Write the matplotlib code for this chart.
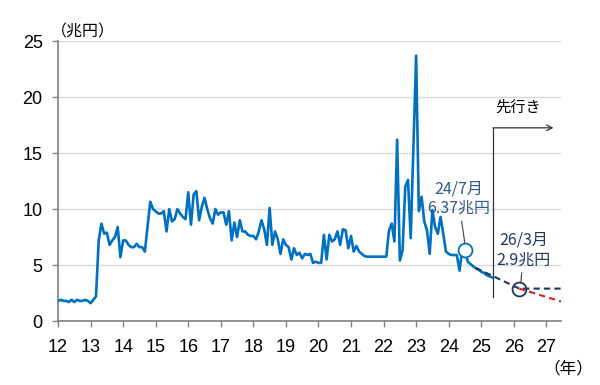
import matplotlib
matplotlib.use("Agg")
import matplotlib.pyplot as plt
from matplotlib import font_manager

# 月次の国債買入れ額（兆円）、2012年1月〜2025年5月
v2012 = [1.8, 1.9, 1.8, 1.8, 1.7, 1.9, 1.7, 1.9, 1.8, 1.8, 1.9, 1.8]
v2013 = [1.6, 1.9, 2.2, 7.2, 8.7, 7.8, 7.9, 6.8, 7.2, 7.5, 8.4, 5.7]
v2014 = [7.2, 7.2, 6.8, 6.6, 6.6, 6.9, 6.6, 6.6, 6.2, 8.4, 10.65, 10.0]
v2015 = [9.8, 9.6, 9.6, 9.8, 8.0, 10.0, 8.9, 9.1, 10.0, 9.6, 9.3, 9.1]
v2016 = [11.5, 8.6, 11.3, 11.6, 9.0, 10.2, 11.0, 10.0, 9.2, 8.7, 10.0, 9.5]
v2017 = [9.7, 9.7, 8.6, 9.8, 7.2, 8.8, 7.5, 9.0, 8.0, 8.0, 7.7, 7.6]
v2018 = [7.6, 7.3, 8.0, 9.0, 8.2, 6.8, 10.1, 6.8, 8.0, 7.3, 6.0, 7.3]
v2019 = [6.8, 6.6, 5.5, 6.5, 5.9, 6.1, 5.6, 6.0, 5.9, 6.0, 5.2, 5.3]
v2020 = [5.2, 5.2, 7.7, 5.5, 7.7, 7.1, 7.3, 8.0, 6.8, 8.2, 8.1, 6.5]
v2021 = [7.6, 6.2, 6.7, 6.2, 6.0, 5.8, 5.75, 5.75, 5.75, 5.75, 5.75, 5.75]
v2022 = [5.75, 5.75, 8.1, 8.7, 7.1, 16.2, 5.4, 6.3, 12.0, 12.6, 7.4, 15.5]
v2023 = [23.7, 9.8, 11.1, 8.9, 8.1, 6.0, 9.9, 8.4, 7.8, 9.3, 7.8, 6.2]
v2024 = [6.0, 5.9, 5.9, 5.9, 4.5, 6.4, 6.37, 5.3, 5.1, 4.9, 4.7, 4.6]
v2025 = [4.4, 4.3, 4.1, 4.0, 3.9]
actual = (v2012 + v2013 + v2014 + v2015 + v2016 + v2017 + v2018 + v2019
          + v2020 + v2021 + v2022 + v2023 + v2024 + v2025)
months = [12 + i / 12 for i in range(len(actual))]

# 先行き（減額計画）
plan_x = [24.83, 26 + 2 / 12, 27.45]
plan_y = [4.75, 2.9, 2.9]
plan2_x = [26 + 2 / 12, 27.45]
plan2_y = [2.9, 1.75]

point1 = (24 + 6 / 12, 6.37)   # 24/7月
point2 = (26 + 2 / 12, 2.9)    # 26/3月

xticks = list(range(12, 28))
yticks = [0, 5, 10, 15, 20, 25]

names = {f.name for f in font_manager.fontManager.ttflist}
fam = ["Noto Sans CJK JP", "DejaVu Sans"]
numfam = ["Liberation Sans Narrow"] + fam if "Liberation Sans Narrow" in names else ["Liberation Sans"] + fam
plt.rcParams["font.family"] = fam

fig = plt.figure(figsize=(6, 3.85), dpi=100)
ax = fig.add_axes([0.0967, 0.166, 0.8383, 0.7275])

ax.plot(months, actual, color="#0070C0", lw=1.9, zorder=3)
ax.plot(plan_x, plan_y, color="#1F3864", lw=1.5, ls=(0, (3, 2)), zorder=4)
ax.plot(plan2_x, plan2_y, color="#D42222", lw=1.5, ls=(0, (3, 2)), zorder=4)

ax.plot(*point1, marker="o", ms=10, mfc="white", mec="#0070C0", mew=1.3, zorder=5)
ax.plot(*point2, marker="o", ms=10, mfc="none", mec="#1F3864", mew=1.3, zorder=5)

ax.annotate("24/7月\n6.37兆円", xy=(point1[0], point1[1] + 0.5), xytext=(24.3, 9.3),
            ha="center", va="bottom", color="#2E5A8C", fontsize=11.5, linespacing=1.2,
            arrowprops=dict(arrowstyle="-", color="#404040", lw=0.8, shrinkA=1, shrinkB=0))
ax.annotate("26/3月\n2.9兆円", xy=(point2[0] + 0.05, point2[1] + 0.5), xytext=(26.3, 4.7),
            ha="center", va="bottom", color="#1F3864", fontsize=11.5, linespacing=1.2,
            arrowprops=dict(arrowstyle="-", color="#404040", lw=0.8, shrinkA=1, shrinkB=0))

# 先行きの区切り
ax.plot([25.36, 25.36], [2.15, 17.25], color="#333333", lw=0.9, zorder=2)
ax.annotate("", xy=(27.22, 17.25), xytext=(25.36, 17.25),
            arrowprops=dict(arrowstyle="->", color="#333333", lw=0.9, shrinkA=0, shrinkB=0))
ax.text(25.42, 18.3, "先行き", fontsize=11, ha="left", va="bottom", color="black")

ax.set_xlim(12, 27.45)
ax.set_ylim(0, 25)
ax.set_xticks(xticks)
ax.set_yticks(yticks)
ax.set_xticklabels([str(t) for t in xticks], family=numfam, fontsize=13)
ax.set_yticklabels([str(t) for t in yticks], family=numfam, fontsize=13)
ax.yaxis.grid(True, color="#D9D9D9", lw=1)
ax.set_axisbelow(True)
for s in ["top", "right"]:
    ax.spines[s].set_visible(False)
for s in ["left", "bottom"]:
    ax.spines[s].set_color("#808080")
    ax.spines[s].set_linewidth(1.2)
ax.tick_params(axis="both", direction="out", length=4, color="#808080", width=1)
ax.tick_params(axis="y", pad=7)
ax.tick_params(axis="x", pad=9)

fig.text(0.085, 0.895, "（兆円）", fontsize=11.5, ha="left", va="bottom")
fig.text(0.988, 0.02, "（年）", fontsize=12, ha="right", va="bottom")

fig.savefig("out.png", dpi=100)
